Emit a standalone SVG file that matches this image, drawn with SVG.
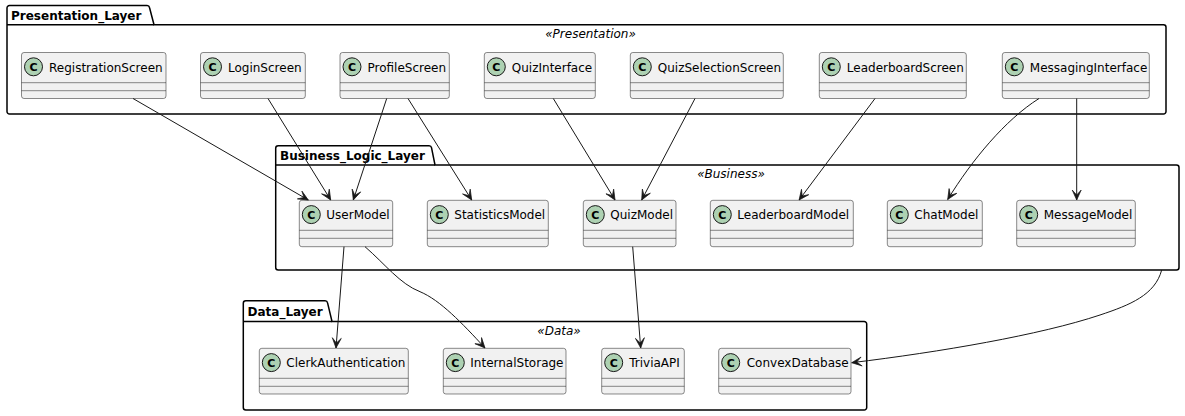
<svg xmlns="http://www.w3.org/2000/svg" width="1185" height="416" viewBox="0 0 1185 416">
<style>
.pkg{fill:none;stroke:#000;stroke-width:1.5}
.pkgtitle{font-family:"DejaVu Sans",sans-serif;font-size:12px;font-weight:bold;fill:#000}
.stereo{font-family:"DejaVu Sans",sans-serif;font-size:12px;font-style:italic;fill:#000;text-anchor:middle}
.box{fill:#F1F1F1;stroke:#181818;stroke-width:0.5}
.sep{stroke:#181818;stroke-width:0.5}
.ico{fill:#ADD1B2;stroke:#181818;stroke-width:1}
.icotxt{font-family:"DejaVu Sans",sans-serif;font-size:11px;font-weight:bold;fill:#000;text-anchor:middle}
.name{font-family:"DejaVu Sans",sans-serif;font-size:12px;fill:#000}
.edge{fill:none;stroke:#181818;stroke-width:1}
</style>
<defs>
<marker id="arr" viewBox="-11 -6 12 12" refX="0" refY="0" markerWidth="12" markerHeight="12" orient="auto" markerUnits="userSpaceOnUse">
<path d="M0,0 L-10,-4.5 L-5,0 L-10,4.5 Z" fill="#181818" stroke="#181818" stroke-width="0.7" stroke-linejoin="round"/>
</marker>
<g id="cls">
<circle class="ico" cx="12" cy="14.3" r="9"/>
<text class="icotxt" x="12" y="18.3">C</text>
</g>
</defs>

<g id="Presentation_Layer">
<path class="pkg" d="M7,8 A2.5,2.5 0 0 1 9.5,5.5 L147,5.5 A2.5,2.5 0 0 1 149.5,7.5 L154,24.7 L1163.5,24.7 A2.5,2.5 0 0 1 1166,27.2 L1166,111.5 A2.5,2.5 0 0 1 1163.5,114 L9.5,114 A2.5,2.5 0 0 1 7,111.5 Z"/>
<line class="pkg" x1="7" y1="24.7" x2="154" y2="24.7"/>
<text class="pkgtitle" x="11" y="19.5">Presentation_Layer</text>
<text class="stereo" x="590.5" y="38">«Presentation»</text>
</g>
<g id="Business_Logic_Layer">
<path class="pkg" d="M275.7,148.2 A2.5,2.5 0 0 1 278.2,145.7 L429,145.7 A2.5,2.5 0 0 1 431.5,147.7 L435,165 L1176.5,165 A2.5,2.5 0 0 1 1179,167.5 L1179,267.5 A2.5,2.5 0 0 1 1176.5,270 L278.2,270 A2.5,2.5 0 0 1 275.7,267.5 Z"/>
<line class="pkg" x1="275.7" y1="165" x2="435" y2="165"/>
<text class="pkgtitle" x="280" y="159.5">Business_Logic_Layer</text>
<text class="stereo" x="731" y="178">«Business»</text>
</g>
<g id="Data_Layer">
<path class="pkg" d="M243.3,303.2 A2.5,2.5 0 0 1 245.8,300.7 L325,300.7 A2.5,2.5 0 0 1 327.5,302.7 L332,321.5 L864.2,321.5 A2.5,2.5 0 0 1 866.7,324 L866.7,407.5 A2.5,2.5 0 0 1 864.2,410 L245.8,410 A2.5,2.5 0 0 1 243.3,407.5 Z"/>
<line class="pkg" x1="243.3" y1="321.5" x2="332" y2="321.5"/>
<text class="pkgtitle" x="247.5" y="315.5">Data_Layer</text>
<text class="stereo" x="559" y="335">«Data»</text>
</g>

<g id="RegistrationScreen" transform="translate(21.5,52.5)">
<rect class="box" width="144.5" height="46" rx="2.5"/><use href="#cls"/>
<text class="name" x="27.5" y="19">RegistrationScreen</text>
<line class="sep" x1="0" y1="30.2" x2="144.5" y2="30.2"/><line class="sep" x1="0" y1="38.2" x2="144.5" y2="38.2"/>
</g>
<g id="LoginScreen" transform="translate(200.5,52.5)">
<rect class="box" width="104.8" height="46" rx="2.5"/><use href="#cls"/>
<text class="name" x="27.5" y="19">LoginScreen</text>
<line class="sep" x1="0" y1="30.2" x2="104.8" y2="30.2"/><line class="sep" x1="0" y1="38.2" x2="104.8" y2="38.2"/>
</g>
<g id="ProfileScreen" transform="translate(340,52.5)">
<rect class="box" width="109.3" height="46" rx="2.5"/><use href="#cls"/>
<text class="name" x="27.5" y="19">ProfileScreen</text>
<line class="sep" x1="0" y1="30.2" x2="109.3" y2="30.2"/><line class="sep" x1="0" y1="38.2" x2="109.3" y2="38.2"/>
</g>
<g id="QuizInterface" transform="translate(484.3,52.5)">
<rect class="box" width="111" height="46" rx="2.5"/><use href="#cls"/>
<text class="name" x="27.5" y="19">QuizInterface</text>
<line class="sep" x1="0" y1="30.2" x2="111" y2="30.2"/><line class="sep" x1="0" y1="38.2" x2="111" y2="38.2"/>
</g>
<g id="QuizSelectionScreen" transform="translate(630.3,52.5)">
<rect class="box" width="153" height="46" rx="2.5"/><use href="#cls"/>
<text class="name" x="27.5" y="19">QuizSelectionScreen</text>
<line class="sep" x1="0" y1="30.2" x2="153" y2="30.2"/><line class="sep" x1="0" y1="38.2" x2="153" y2="38.2"/>
</g>
<g id="LeaderboardScreen" transform="translate(819.3,52.5)">
<rect class="box" width="147" height="46" rx="2.5"/><use href="#cls"/>
<text class="name" x="27.5" y="19">LeaderboardScreen</text>
<line class="sep" x1="0" y1="30.2" x2="147" y2="30.2"/><line class="sep" x1="0" y1="38.2" x2="147" y2="38.2"/>
</g>
<g id="MessagingInterface" transform="translate(1002.3,52.5)">
<rect class="box" width="147" height="46" rx="2.5"/><use href="#cls"/>
<text class="name" x="27.5" y="19">MessagingInterface</text>
<line class="sep" x1="0" y1="30.2" x2="147" y2="30.2"/><line class="sep" x1="0" y1="38.2" x2="147" y2="38.2"/>
</g>

<g id="UserModel" transform="translate(299.3,200.3)">
<rect class="box" width="93.4" height="46.4" rx="2.5"/><use href="#cls"/>
<text class="name" x="27" y="19">UserModel</text>
<line class="sep" x1="0" y1="30" x2="93.4" y2="30"/><line class="sep" x1="0" y1="38" x2="93.4" y2="38"/>
</g>
<g id="StatisticsModel" transform="translate(427.3,200.3)">
<rect class="box" width="121" height="46.4" rx="2.5"/><use href="#cls"/>
<text class="name" x="27" y="19">StatisticsModel</text>
<line class="sep" x1="0" y1="30" x2="121" y2="30"/><line class="sep" x1="0" y1="38" x2="121" y2="38"/>
</g>
<g id="QuizModel" transform="translate(583.3,200.3)">
<rect class="box" width="92.7" height="46.4" rx="2.5"/><use href="#cls"/>
<text class="name" x="27" y="19">QuizModel</text>
<line class="sep" x1="0" y1="30" x2="92.7" y2="30"/><line class="sep" x1="0" y1="38" x2="92.7" y2="38"/>
</g>
<g id="LeaderboardModel" transform="translate(710.3,200.3)">
<rect class="box" width="143" height="46.4" rx="2.5"/><use href="#cls"/>
<text class="name" x="27" y="19">LeaderboardModel</text>
<line class="sep" x1="0" y1="30" x2="143" y2="30"/><line class="sep" x1="0" y1="38" x2="143" y2="38"/>
</g>
<g id="ChatModel" transform="translate(887.3,200.3)">
<rect class="box" width="95" height="46.4" rx="2.5"/><use href="#cls"/>
<text class="name" x="27" y="19">ChatModel</text>
<line class="sep" x1="0" y1="30" x2="95" y2="30"/><line class="sep" x1="0" y1="38" x2="95" y2="38"/>
</g>
<g id="MessageModel" transform="translate(1016.7,200.3)">
<rect class="box" width="118.6" height="46.4" rx="2.5"/><use href="#cls"/>
<text class="name" x="27" y="19">MessageModel</text>
<line class="sep" x1="0" y1="30" x2="118.6" y2="30"/><line class="sep" x1="0" y1="38" x2="118.6" y2="38"/>
</g>

<g id="ClerkAuthentication" transform="translate(259.3,348.3)">
<rect class="box" width="149" height="45.7" rx="2.5"/><use href="#cls"/>
<text class="name" x="27" y="19">ClerkAuthentication</text>
<line class="sep" x1="0" y1="30" x2="149" y2="30"/><line class="sep" x1="0" y1="38" x2="149" y2="38"/>
</g>
<g id="InternalStorage" transform="translate(443.3,348.3)">
<rect class="box" width="122.7" height="45.7" rx="2.5"/><use href="#cls"/>
<text class="name" x="27" y="19">InternalStorage</text>
<line class="sep" x1="0" y1="30" x2="122.7" y2="30"/><line class="sep" x1="0" y1="38" x2="122.7" y2="38"/>
</g>
<g id="TriviaAPI" transform="translate(601.7,348.3)">
<rect class="box" width="82.6" height="45.7" rx="2.5"/><use href="#cls"/>
<text class="name" x="27.5" y="19">TriviaAPI</text>
<line class="sep" x1="0" y1="30" x2="82.6" y2="30"/><line class="sep" x1="0" y1="38" x2="82.6" y2="38"/>
</g>
<g id="ConvexDatabase" transform="translate(718.7,348.3)">
<rect class="box" width="132.3" height="45.7" rx="2.5"/><use href="#cls"/>
<text class="name" x="28" y="19">ConvexDatabase</text>
<line class="sep" x1="0" y1="30" x2="132.3" y2="30"/><line class="sep" x1="0" y1="38" x2="132.3" y2="38"/>
</g>

<g id="connectors">
<path class="edge" marker-end="url(#arr)" d="M133,98.5 L308.3,200"/>
<path class="edge" marker-end="url(#arr)" d="M268,98.5 L330.7,200"/>
<path class="edge" marker-end="url(#arr)" d="M386.7,98.5 L353.3,200"/>
<path class="edge" marker-end="url(#arr)" d="M408,98.5 L471.7,200"/>
<path class="edge" marker-end="url(#arr)" d="M553.3,98.5 L615,200"/>
<path class="edge" marker-end="url(#arr)" d="M695,98.5 L641.7,200"/>
<path class="edge" marker-end="url(#arr)" d="M875,98.5 L799.1,200"/>
<path class="edge" marker-end="url(#arr)" d="M1039,98.5 C1005,120 972,160 947.7,199.5"/>
<path class="edge" marker-end="url(#arr)" d="M1076.7,98.5 L1076.7,200"/>
<path class="edge" marker-end="url(#arr)" d="M344,246.7 L336,348"/>
<path class="edge" marker-end="url(#arr)" d="M365,246.7 C385,264 400,284 420,291.7 C440,300 462,323 485,348"/>
<path class="edge" marker-end="url(#arr)" d="M632.7,246.7 L640.7,348"/>
<path class="edge" marker-end="url(#arr)" d="M1161.7,270 C1155,295 1130,305 1100,315 C1040,335 940,352 851.7,362.7"/>
</g>
</svg>
